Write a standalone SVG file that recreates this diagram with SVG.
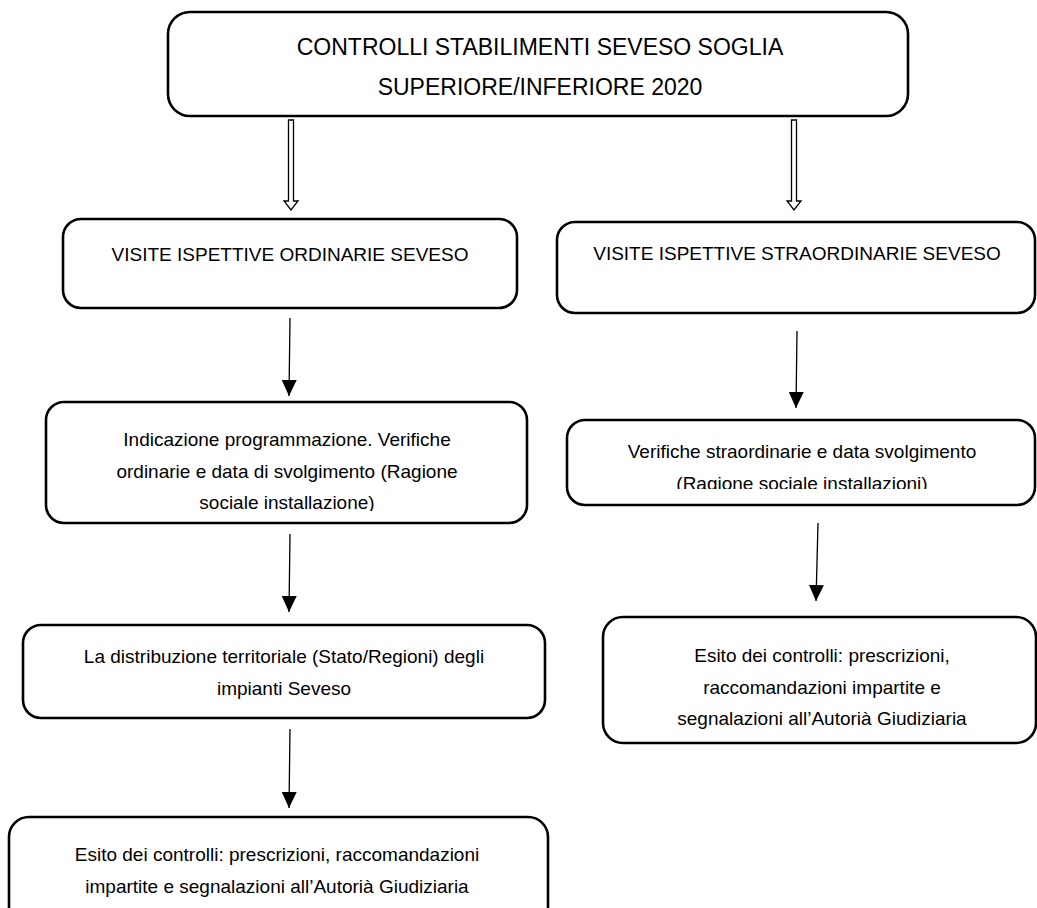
<svg xmlns="http://www.w3.org/2000/svg" width="1037" height="908" viewBox="0 0 1037 908">
<style>
.box{fill:#fff;stroke:#000;stroke-width:2.6}
.t{font-family:"Liberation Sans",Arial,sans-serif;font-size:19px;fill:#000;text-anchor:middle}
.title{font-size:23px}
.conn{stroke:#000;stroke-width:1.3;fill:none}
.dbl{fill:#fff;stroke:#000;stroke-width:1.3;stroke-linejoin:miter}
</style>
<defs>
<marker id="ah" markerUnits="userSpaceOnUse" viewBox="0 0 16 15" refX="16" refY="7.5" markerWidth="16" markerHeight="15" orient="auto">
<path d="M0,0 L16,7.5 L0,15 Z" fill="#000"/>
</marker>
<clipPath id="c4"><rect x="47" y="403" width="480" height="108"/></clipPath>
<clipPath id="c5"><rect x="567" y="420" width="468" height="69"/></clipPath>
</defs>
<rect width="1037" height="908" fill="#fff"/>

<g id="connectors">
<path class="dbl" d="M288.5,120 L293.5,120 L293.5,201 L298,201 L291,210 L284,201 L288.5,201 Z"/>
<path class="dbl" d="M791.5,120 L796.5,120 L796.5,201 L801,201 L794,210 L787,201 L791.5,201 Z"/>
<line class="conn" x1="290" y1="318" x2="289" y2="396" marker-end="url(#ah)"/>
<line class="conn" x1="797" y1="331" x2="796" y2="408" marker-end="url(#ah)"/>
<line class="conn" x1="290" y1="534" x2="289" y2="612" marker-end="url(#ah)"/>
<line class="conn" x1="818" y1="523" x2="816" y2="601" marker-end="url(#ah)"/>
<line class="conn" x1="290" y1="729" x2="289" y2="808" marker-end="url(#ah)"/>
</g>

<g id="n-title">
<rect class="box" x="168" y="12" width="740" height="104" rx="22"/>
<text class="t title" x="540" y="55">CONTROLLI STABILIMENTI SEVESO SOGLIA</text>
<text class="t title" x="540" y="95">SUPERIORE/INFERIORE 2020</text>
</g>

<g id="n-ordinarie">
<rect class="box" x="63" y="219" width="454" height="89" rx="18"/>
<text class="t" x="290" y="261">VISITE ISPETTIVE ORDINARIE SEVESO</text>
</g>

<g id="n-straordinarie">
<rect class="box" x="557" y="222" width="478" height="91" rx="18"/>
<text class="t" x="797" y="260">VISITE ISPETTIVE STRAORDINARIE SEVESO</text>
</g>

<g id="n-indicazione">
<rect class="box" x="46" y="402" width="481" height="121" rx="18"/>
<g clip-path="url(#c4)">
<text class="t" x="287" y="446">Indicazione programmazione. Verifiche</text>
<text class="t" x="287" y="478">ordinarie e data di svolgimento (Ragione</text>
<text class="t" x="287" y="509">sociale installazione)</text>
</g>
</g>

<g id="n-verifiche">
<rect class="box" x="567" y="420" width="468" height="85" rx="18"/>
<g clip-path="url(#c5)">
<text class="t" x="802" y="458">Verifiche straordinarie e data svolgimento</text>
<text class="t" x="802" y="490">(Ragione sociale installazioni)</text>
</g>
</g>

<g id="n-distribuzione">
<rect class="box" x="23" y="625" width="522" height="93" rx="18"/>
<text class="t" x="284" y="663">La distribuzione territoriale (Stato/Regioni) degli</text>
<text class="t" x="284" y="695">impianti Seveso</text>
</g>

<g id="n-esito-dx">
<rect class="box" x="603" y="617" width="433" height="126" rx="20"/>
<text class="t" x="822" y="662">Esito dei controlli: prescrizioni,</text>
<text class="t" x="822" y="694">raccomandazioni impartite e</text>
<text class="t" x="822" y="725">segnalazioni all’Autorià Giudiziaria</text>
</g>

<g id="n-esito-sx">
<rect class="box" x="9" y="817" width="539" height="110" rx="20"/>
<text class="t" x="277" y="861">Esito dei controlli: prescrizioni, raccomandazioni</text>
<text class="t" x="277" y="893">impartite e segnalazioni all’Autorià Giudiziaria</text>
</g>
</svg>
